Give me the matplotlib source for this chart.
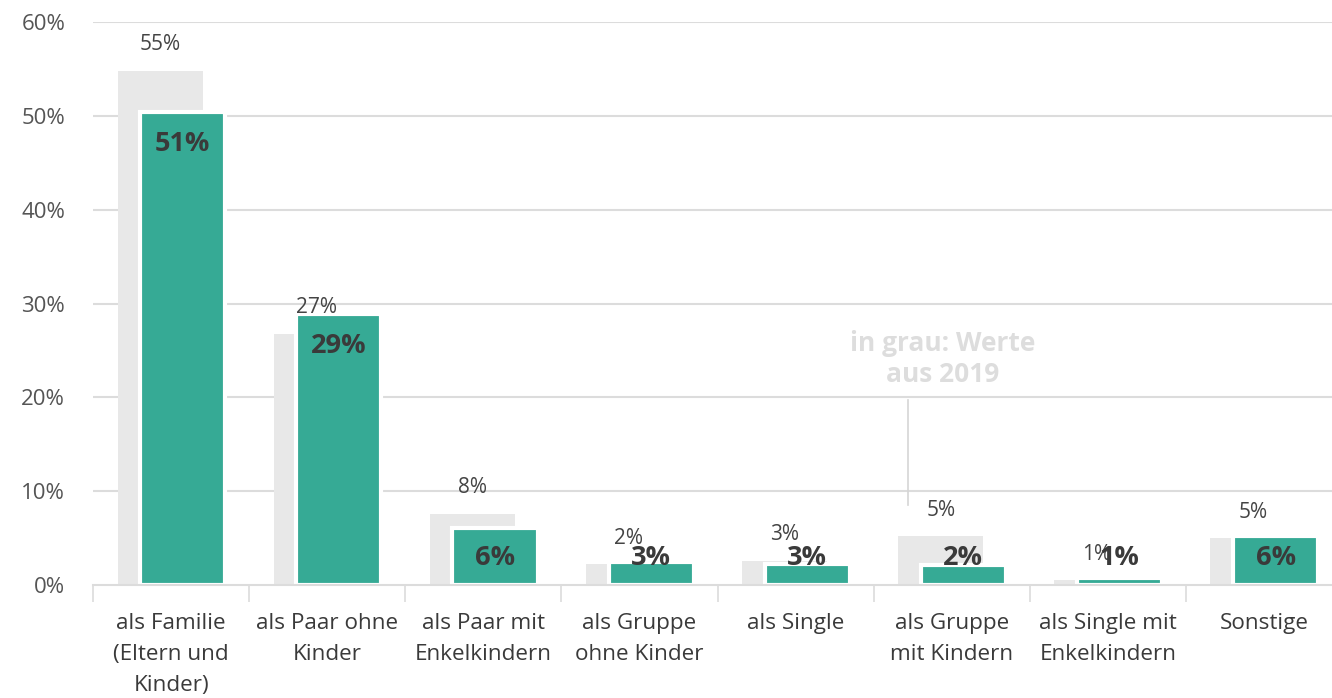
import matplotlib
matplotlib.use("Agg")
import matplotlib.pyplot as plt
import numpy as np

categories = ["als Familie\n(Eltern und\nKinder)", "als Paar ohne\nKinder", "als Paar mit\nEnkelkindern",
              "als Gruppe\nohne Kinder", "als Single", "als Gruppe\nmit Kindern",
              "als Single mit\nEnkelkindern", "Sonstige"]
values_2019 = [54.8, 26.8, 7.6, 2.2, 2.6, 5.2, 0.5, 5.0]
labels_2019 = ["55%", "27%", "8%", "2%", "3%", "5%", "1%", "5%"]
values_now = [50.4, 28.9, 6.1, 2.5, 2.2, 2.1, 0.7, 5.2]
labels_now = ["51%", "29%", "6%", "3%", "3%", "2%", "1%", "6%"]
yticks = [0, 10, 20, 30, 40, 50, 60]
ytick_labels = ["0%", "10%", "20%", "30%", "40%", "50%", "60%"]

plt.rcParams['font.family'] = ['Open Sans', 'DejaVu Sans']

GREEN = "#36aa95"
GREY = "#e8e8e8"
GRID = "#dcdcdc"

fig = plt.figure(figsize=(13.32, 6.98), dpi=100)
ax = fig.add_axes([93/1332, 113/698, 1249/1332, 563/698])
n = len(categories)
x = np.arange(n)
w = 0.545
ax.set_xlim(-0.5, n - 0.5)
ax.set_ylim(0, 60)

for yv in yticks[1:]:
    ax.axhline(yv, color=GRID, lw=1.5, zorder=0)

ax.bar(x - 0.07, values_2019, width=w, color=GREY, zorder=1)
ax.bar(x + 0.075, values_now, width=w, color=GREEN, edgecolor="white", linewidth=3, zorder=2)

for i in range(n):
    ax.text(x[i] - 0.07, values_2019[i] + 2.75, labels_2019[i], ha="center", va="center",
            fontsize=15, color="#444444", zorder=3)
    ax.text(x[i] + 0.075, max(values_now[i] - 3.4, 2.9), labels_now[i], ha="center", va="center",
            fontsize=19.5, fontweight="bold", color="#3a3a3a", zorder=4)

ax.text(4.945, 24.1, "in grau: Werte\naus 2019", ha="center", va="center", fontsize=19,
        fontweight="bold", color="#dddddd", linespacing=1.2)
ax.plot([4.72, 4.72], [8.5, 19.7], color="#d5d5d5", lw=1.2)

for s in ["top", "right", "left"]:
    ax.spines[s].set_visible(False)
ax.spines["bottom"].set_color(GRID)
ax.spines["bottom"].set_linewidth(1.5)

ax.set_yticks(yticks)
ax.set_yticklabels(ytick_labels, fontsize=16, color="#555555")
ax.tick_params(axis="y", length=0, pad=20)

ax.set_xticks(np.arange(-0.5, n, 1.0), minor=False)
ax.set_xticklabels([""] * (n + 1))
ax.tick_params(axis="x", length=12, color=GRID, width=1.2)
ax.set_xticks(x, minor=True)
ax.set_xticklabels(categories, minor=True, fontsize=16.2, color="#3a3a3a", linespacing=1.63, va="top")
ax.tick_params(axis="x", which="minor", length=0, pad=20)

fig.savefig("out.png", dpi=100, facecolor="white")
